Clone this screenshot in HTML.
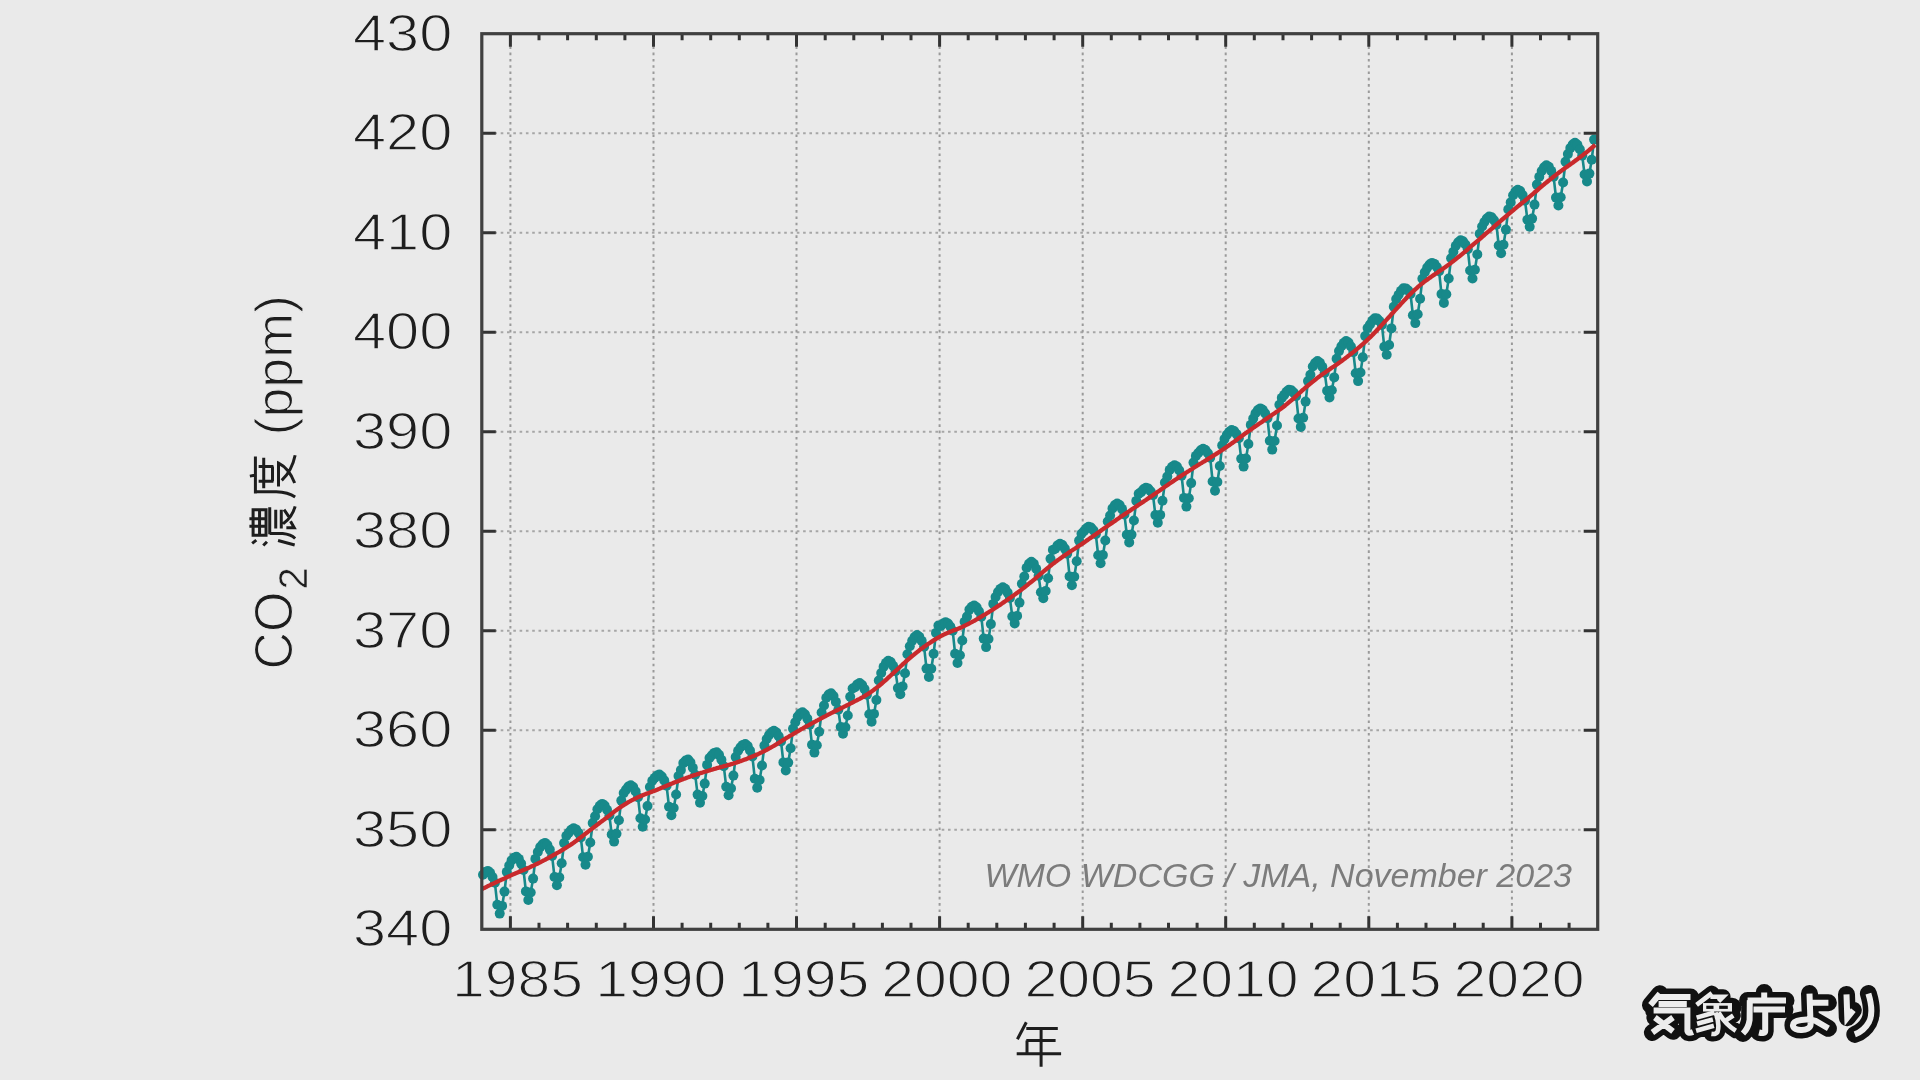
<!DOCTYPE html>
<html><head><meta charset="utf-8">
<style>
html,body{margin:0;padding:0;width:1920px;height:1080px;overflow:hidden;background:#eaeaea;}
svg{display:block;filter:blur(0.45px);}
text{font-family:"Liberation Sans",sans-serif;}
</style></head>
<body>
<svg width="1920" height="1080" viewBox="0 0 1920 1080">
<rect x="0" y="0" width="1920" height="1080" fill="#eaeaea"/>
<g stroke="#a6a6a6" stroke-width="2" stroke-dasharray="2.6 3.7" fill="none"><line x1="481.8" y1="829.8" x2="1597.7" y2="829.8"/><line x1="481.8" y1="730.3" x2="1597.7" y2="730.3"/><line x1="481.8" y1="630.8" x2="1597.7" y2="630.8"/><line x1="481.8" y1="531.3" x2="1597.7" y2="531.3"/><line x1="481.8" y1="431.7" x2="1597.7" y2="431.7"/><line x1="481.8" y1="332.2" x2="1597.7" y2="332.2"/><line x1="481.8" y1="232.7" x2="1597.7" y2="232.7"/><line x1="481.8" y1="133.2" x2="1597.7" y2="133.2"/></g>
<g stroke="#9a9a9a" stroke-width="2" stroke-dasharray="2.6 3.7" fill="none"><line x1="510.4" y1="33.7" x2="510.4" y2="929.3"/><line x1="653.5" y1="33.7" x2="653.5" y2="929.3"/><line x1="796.5" y1="33.7" x2="796.5" y2="929.3"/><line x1="939.6" y1="33.7" x2="939.6" y2="929.3"/><line x1="1082.7" y1="33.7" x2="1082.7" y2="929.3"/><line x1="1225.7" y1="33.7" x2="1225.7" y2="929.3"/><line x1="1368.8" y1="33.7" x2="1368.8" y2="929.3"/><line x1="1511.9" y1="33.7" x2="1511.9" y2="929.3"/></g>
<text x="1572" y="886.6" font-size="34" font-style="italic" fill="#7c7c7c" text-anchor="end">WMO WDCGG / JMA, November 2023</text>
<path d="M483.0,874.8 L485.4,872.1 L487.8,870.9 L490.1,872.8 L492.5,877.0 L494.9,882.8 L497.3,904.8 L499.7,913.6 L502.1,905.9 L504.5,891.6 L506.8,871.9 L509.2,865.5 L511.6,860.4 L514.0,857.7 L516.4,856.7 L518.8,858.9 L521.1,863.6 L523.5,870.0 L525.9,891.4 L528.3,900.0 L530.7,892.5 L533.1,878.6 L535.4,858.9 L537.8,852.0 L540.2,847.1 L542.6,844.2 L545.0,842.9 L547.4,845.0 L549.8,849.6 L552.1,855.9 L554.5,877.0 L556.9,885.2 L559.3,877.4 L561.7,863.2 L564.1,843.1 L566.4,835.7 L568.8,832.8 L571.2,829.8 L573.6,828.2 L576.0,829.4 L578.4,832.7 L580.8,837.4 L583.1,857.3 L585.5,864.8 L587.9,856.7 L590.3,842.5 L592.7,823.1 L595.1,816.2 L597.4,809.2 L599.8,805.7 L602.2,803.9 L604.6,805.5 L607.0,809.7 L609.4,815.5 L611.7,834.5 L614.1,841.6 L616.5,833.8 L618.9,820.2 L621.3,800.6 L623.7,793.1 L626.1,789.6 L628.4,786.6 L630.8,785.3 L633.2,787.1 L635.6,791.4 L638.0,797.2 L640.4,818.3 L642.7,826.8 L645.1,819.5 L647.5,806.0 L649.9,787.0 L652.3,780.7 L654.7,777.9 L657.1,775.6 L659.4,774.6 L661.8,776.5 L664.2,780.4 L666.6,785.8 L669.0,806.8 L671.4,815.3 L673.7,808.0 L676.1,794.5 L678.5,776.0 L680.9,770.1 L683.3,763.1 L685.7,760.5 L688.1,759.6 L690.4,762.3 L692.8,767.7 L695.2,774.8 L697.6,794.6 L700.0,802.7 L702.4,796.0 L704.7,783.6 L707.1,764.9 L709.5,758.0 L711.9,755.2 L714.3,752.9 L716.7,752.2 L719.0,754.7 L721.4,759.7 L723.8,766.2 L726.2,786.8 L728.6,795.2 L731.0,788.4 L733.4,775.6 L735.7,757.1 L738.1,750.7 L740.5,747.3 L742.9,744.9 L745.3,744.0 L747.7,746.1 L750.0,750.5 L752.4,756.5 L754.8,778.8 L757.2,787.8 L759.6,780.0 L762.0,765.5 L764.4,745.6 L766.7,739.0 L769.1,735.0 L771.5,732.2 L773.9,730.8 L776.3,732.4 L778.7,736.2 L781.0,741.4 L783.4,762.4 L785.8,770.5 L788.2,762.6 L790.6,748.3 L793.0,728.8 L795.3,722.2 L797.7,716.6 L800.1,713.6 L802.5,712.3 L804.9,714.2 L807.3,718.6 L809.7,724.6 L812.0,744.7 L814.4,752.6 L816.8,745.2 L819.2,731.7 L821.6,712.5 L824.0,705.5 L826.3,697.7 L828.7,694.5 L831.1,693.3 L833.5,696.1 L835.9,701.9 L838.3,709.7 L840.7,727.0 L843.0,733.8 L845.4,727.3 L847.8,715.5 L850.2,696.7 L852.6,688.5 L855.0,687.2 L857.3,684.4 L859.7,683.1 L862.1,685.0 L864.5,689.1 L866.9,694.7 L869.3,714.3 L871.6,721.7 L874.0,713.9 L876.4,700.0 L878.8,680.5 L881.2,673.0 L883.6,666.7 L886.0,662.9 L888.3,660.8 L890.7,662.0 L893.1,665.7 L895.5,671.1 L897.9,688.1 L900.3,694.2 L902.6,686.4 L905.0,673.3 L907.4,654.2 L909.8,646.2 L912.2,640.7 L914.6,637.0 L917.0,635.1 L919.3,636.7 L921.7,640.9 L924.1,646.8 L926.5,668.6 L928.9,677.0 L931.3,668.7 L933.6,653.8 L936.0,632.9 L938.4,625.5 L940.8,625.9 L943.2,623.5 L945.6,622.3 L948.0,623.5 L950.3,626.6 L952.7,630.8 L955.1,653.7 L957.5,663.0 L959.9,655.2 L962.3,640.5 L964.6,621.8 L967.0,616.6 L969.4,609.6 L971.8,606.8 L974.2,605.5 L976.6,607.2 L978.9,611.2 L981.3,616.7 L983.7,638.6 L986.1,647.1 L988.5,639.0 L990.9,624.1 L993.3,603.9 L995.6,597.0 L998.0,592.0 L1000.4,588.9 L1002.8,587.3 L1005.2,588.8 L1007.6,592.6 L1009.9,598.0 L1012.3,616.5 L1014.7,623.4 L1017.1,615.9 L1019.5,602.6 L1021.9,583.8 L1024.3,576.5 L1026.6,567.7 L1029.0,563.8 L1031.4,561.8 L1033.8,563.8 L1036.2,568.8 L1038.6,575.7 L1040.9,592.3 L1043.3,598.3 L1045.7,591.0 L1048.1,578.3 L1050.5,558.8 L1052.9,549.9 L1055.2,548.7 L1057.6,545.4 L1060.0,543.7 L1062.4,545.0 L1064.8,548.6 L1067.2,553.7 L1069.6,576.4 L1071.9,585.2 L1074.3,576.7 L1076.7,561.3 L1079.1,540.6 L1081.5,533.8 L1083.9,531.3 L1086.2,528.5 L1088.6,526.8 L1091.0,527.6 L1093.4,530.3 L1095.8,534.3 L1098.2,555.3 L1100.6,563.3 L1102.9,555.1 L1105.3,540.5 L1107.7,521.5 L1110.1,515.5 L1112.5,508.4 L1114.9,505.1 L1117.2,503.5 L1119.6,505.0 L1122.0,508.9 L1124.4,514.4 L1126.8,534.7 L1129.2,542.4 L1131.5,534.6 L1133.9,520.5 L1136.3,500.9 L1138.7,493.8 L1141.1,492.1 L1143.5,489.3 L1145.9,487.7 L1148.2,488.5 L1150.6,491.2 L1153.0,495.1 L1155.4,515.1 L1157.8,522.7 L1160.2,514.9 L1162.5,500.8 L1164.9,482.5 L1167.3,476.5 L1169.7,469.9 L1172.1,466.8 L1174.5,465.2 L1176.9,466.6 L1179.2,470.3 L1181.6,475.6 L1184.0,497.9 L1186.4,506.6 L1188.8,498.3 L1191.2,483.1 L1193.5,462.6 L1195.9,455.9 L1198.3,453.0 L1200.7,450.3 L1203.1,448.8 L1205.5,450.0 L1207.9,453.2 L1210.2,457.7 L1212.6,481.5 L1215.0,490.8 L1217.4,482.0 L1219.8,466.0 L1222.2,445.4 L1224.5,439.1 L1226.9,434.8 L1229.3,431.8 L1231.7,430.1 L1234.1,431.0 L1236.5,434.0 L1238.8,438.2 L1241.2,458.8 L1243.6,466.6 L1246.0,458.5 L1248.4,444.0 L1250.8,424.9 L1253.2,418.6 L1255.5,413.2 L1257.9,410.1 L1260.3,408.4 L1262.7,409.7 L1265.1,413.2 L1267.5,418.1 L1269.8,440.8 L1272.2,449.6 L1274.6,441.0 L1277.0,425.5 L1279.4,404.7 L1281.8,397.9 L1284.2,394.9 L1286.5,391.7 L1288.9,389.8 L1291.3,390.3 L1293.7,392.6 L1296.1,396.1 L1298.5,418.5 L1300.8,426.9 L1303.2,417.7 L1305.6,401.6 L1308.0,381.1 L1310.4,374.7 L1312.8,366.5 L1315.1,363.0 L1317.5,361.1 L1319.9,362.7 L1322.3,366.8 L1324.7,372.7 L1327.1,390.7 L1329.5,397.5 L1331.8,390.3 L1334.2,377.4 L1336.6,358.7 L1339.0,351.1 L1341.4,346.3 L1343.8,342.9 L1346.1,341.1 L1348.5,342.6 L1350.9,346.5 L1353.3,352.1 L1355.7,373.2 L1358.1,381.1 L1360.5,372.5 L1362.8,357.2 L1365.2,336.1 L1367.6,328.1 L1370.0,324.5 L1372.4,320.6 L1374.8,318.2 L1377.1,318.5 L1379.5,321.0 L1381.9,324.9 L1384.3,346.8 L1386.7,354.7 L1389.1,345.0 L1391.4,328.4 L1393.8,306.7 L1396.2,299.1 L1398.6,294.8 L1401.0,290.9 L1403.4,288.3 L1405.8,288.4 L1408.1,290.4 L1410.5,293.9 L1412.9,315.2 L1415.3,323.1 L1417.7,314.2 L1420.1,298.7 L1422.4,278.7 L1424.8,272.3 L1427.2,267.6 L1429.6,264.6 L1432.0,262.9 L1434.4,263.9 L1436.8,267.0 L1439.1,271.3 L1441.5,294.1 L1443.9,302.9 L1446.3,294.2 L1448.7,278.5 L1451.1,258.2 L1453.4,251.7 L1455.8,245.7 L1458.2,242.3 L1460.6,240.3 L1463.0,241.3 L1465.4,244.5 L1467.8,249.3 L1470.1,270.5 L1472.5,278.5 L1474.9,269.8 L1477.3,254.4 L1479.7,233.8 L1482.1,226.5 L1484.4,222.0 L1486.8,218.5 L1489.2,216.5 L1491.6,217.3 L1494.0,220.3 L1496.4,224.7 L1498.7,245.5 L1501.1,253.3 L1503.5,244.7 L1505.9,229.6 L1508.3,209.4 L1510.7,202.4 L1513.1,195.3 L1515.4,191.6 L1517.8,189.7 L1520.2,191.1 L1522.6,195.0 L1525.0,200.6 L1527.4,219.7 L1529.7,226.7 L1532.1,218.6 L1534.5,204.6 L1536.9,184.6 L1539.3,176.7 L1541.7,171.0 L1544.1,167.3 L1546.4,165.3 L1548.8,166.8 L1551.2,170.9 L1553.6,176.7 L1556.0,197.6 L1558.4,205.5 L1560.7,197.2 L1563.1,182.5 L1565.5,161.8 L1567.9,154.1 L1570.3,148.1 L1572.7,144.6 L1575.0,142.8 L1577.4,144.7 L1579.8,149.2 L1582.2,155.6 L1584.6,174.5 L1587.0,181.5 L1589.4,173.6 L1591.7,159.8 L1594.1,139.6" fill="none" stroke="#17898a" stroke-width="2.6"/>
<g fill="#17898a"><circle cx="483.0" cy="874.8" r="5.0"/><circle cx="485.4" cy="872.1" r="5.0"/><circle cx="487.8" cy="870.9" r="5.0"/><circle cx="490.1" cy="872.8" r="5.0"/><circle cx="492.5" cy="877.0" r="5.0"/><circle cx="494.9" cy="882.8" r="5.0"/><circle cx="497.3" cy="904.8" r="5.0"/><circle cx="499.7" cy="913.6" r="5.0"/><circle cx="502.1" cy="905.9" r="5.0"/><circle cx="504.5" cy="891.6" r="5.0"/><circle cx="506.8" cy="871.9" r="5.0"/><circle cx="509.2" cy="865.5" r="5.0"/><circle cx="511.6" cy="860.4" r="5.0"/><circle cx="514.0" cy="857.7" r="5.0"/><circle cx="516.4" cy="856.7" r="5.0"/><circle cx="518.8" cy="858.9" r="5.0"/><circle cx="521.1" cy="863.6" r="5.0"/><circle cx="523.5" cy="870.0" r="5.0"/><circle cx="525.9" cy="891.4" r="5.0"/><circle cx="528.3" cy="900.0" r="5.0"/><circle cx="530.7" cy="892.5" r="5.0"/><circle cx="533.1" cy="878.6" r="5.0"/><circle cx="535.4" cy="858.9" r="5.0"/><circle cx="537.8" cy="852.0" r="5.0"/><circle cx="540.2" cy="847.1" r="5.0"/><circle cx="542.6" cy="844.2" r="5.0"/><circle cx="545.0" cy="842.9" r="5.0"/><circle cx="547.4" cy="845.0" r="5.0"/><circle cx="549.8" cy="849.6" r="5.0"/><circle cx="552.1" cy="855.9" r="5.0"/><circle cx="554.5" cy="877.0" r="5.0"/><circle cx="556.9" cy="885.2" r="5.0"/><circle cx="559.3" cy="877.4" r="5.0"/><circle cx="561.7" cy="863.2" r="5.0"/><circle cx="564.1" cy="843.1" r="5.0"/><circle cx="566.4" cy="835.7" r="5.0"/><circle cx="568.8" cy="832.8" r="5.0"/><circle cx="571.2" cy="829.8" r="5.0"/><circle cx="573.6" cy="828.2" r="5.0"/><circle cx="576.0" cy="829.4" r="5.0"/><circle cx="578.4" cy="832.7" r="5.0"/><circle cx="580.8" cy="837.4" r="5.0"/><circle cx="583.1" cy="857.3" r="5.0"/><circle cx="585.5" cy="864.8" r="5.0"/><circle cx="587.9" cy="856.7" r="5.0"/><circle cx="590.3" cy="842.5" r="5.0"/><circle cx="592.7" cy="823.1" r="5.0"/><circle cx="595.1" cy="816.2" r="5.0"/><circle cx="597.4" cy="809.2" r="5.0"/><circle cx="599.8" cy="805.7" r="5.0"/><circle cx="602.2" cy="803.9" r="5.0"/><circle cx="604.6" cy="805.5" r="5.0"/><circle cx="607.0" cy="809.7" r="5.0"/><circle cx="609.4" cy="815.5" r="5.0"/><circle cx="611.7" cy="834.5" r="5.0"/><circle cx="614.1" cy="841.6" r="5.0"/><circle cx="616.5" cy="833.8" r="5.0"/><circle cx="618.9" cy="820.2" r="5.0"/><circle cx="621.3" cy="800.6" r="5.0"/><circle cx="623.7" cy="793.1" r="5.0"/><circle cx="626.1" cy="789.6" r="5.0"/><circle cx="628.4" cy="786.6" r="5.0"/><circle cx="630.8" cy="785.3" r="5.0"/><circle cx="633.2" cy="787.1" r="5.0"/><circle cx="635.6" cy="791.4" r="5.0"/><circle cx="638.0" cy="797.2" r="5.0"/><circle cx="640.4" cy="818.3" r="5.0"/><circle cx="642.7" cy="826.8" r="5.0"/><circle cx="645.1" cy="819.5" r="5.0"/><circle cx="647.5" cy="806.0" r="5.0"/><circle cx="649.9" cy="787.0" r="5.0"/><circle cx="652.3" cy="780.7" r="5.0"/><circle cx="654.7" cy="777.9" r="5.0"/><circle cx="657.1" cy="775.6" r="5.0"/><circle cx="659.4" cy="774.6" r="5.0"/><circle cx="661.8" cy="776.5" r="5.0"/><circle cx="664.2" cy="780.4" r="5.0"/><circle cx="666.6" cy="785.8" r="5.0"/><circle cx="669.0" cy="806.8" r="5.0"/><circle cx="671.4" cy="815.3" r="5.0"/><circle cx="673.7" cy="808.0" r="5.0"/><circle cx="676.1" cy="794.5" r="5.0"/><circle cx="678.5" cy="776.0" r="5.0"/><circle cx="680.9" cy="770.1" r="5.0"/><circle cx="683.3" cy="763.1" r="5.0"/><circle cx="685.7" cy="760.5" r="5.0"/><circle cx="688.1" cy="759.6" r="5.0"/><circle cx="690.4" cy="762.3" r="5.0"/><circle cx="692.8" cy="767.7" r="5.0"/><circle cx="695.2" cy="774.8" r="5.0"/><circle cx="697.6" cy="794.6" r="5.0"/><circle cx="700.0" cy="802.7" r="5.0"/><circle cx="702.4" cy="796.0" r="5.0"/><circle cx="704.7" cy="783.6" r="5.0"/><circle cx="707.1" cy="764.9" r="5.0"/><circle cx="709.5" cy="758.0" r="5.0"/><circle cx="711.9" cy="755.2" r="5.0"/><circle cx="714.3" cy="752.9" r="5.0"/><circle cx="716.7" cy="752.2" r="5.0"/><circle cx="719.0" cy="754.7" r="5.0"/><circle cx="721.4" cy="759.7" r="5.0"/><circle cx="723.8" cy="766.2" r="5.0"/><circle cx="726.2" cy="786.8" r="5.0"/><circle cx="728.6" cy="795.2" r="5.0"/><circle cx="731.0" cy="788.4" r="5.0"/><circle cx="733.4" cy="775.6" r="5.0"/><circle cx="735.7" cy="757.1" r="5.0"/><circle cx="738.1" cy="750.7" r="5.0"/><circle cx="740.5" cy="747.3" r="5.0"/><circle cx="742.9" cy="744.9" r="5.0"/><circle cx="745.3" cy="744.0" r="5.0"/><circle cx="747.7" cy="746.1" r="5.0"/><circle cx="750.0" cy="750.5" r="5.0"/><circle cx="752.4" cy="756.5" r="5.0"/><circle cx="754.8" cy="778.8" r="5.0"/><circle cx="757.2" cy="787.8" r="5.0"/><circle cx="759.6" cy="780.0" r="5.0"/><circle cx="762.0" cy="765.5" r="5.0"/><circle cx="764.4" cy="745.6" r="5.0"/><circle cx="766.7" cy="739.0" r="5.0"/><circle cx="769.1" cy="735.0" r="5.0"/><circle cx="771.5" cy="732.2" r="5.0"/><circle cx="773.9" cy="730.8" r="5.0"/><circle cx="776.3" cy="732.4" r="5.0"/><circle cx="778.7" cy="736.2" r="5.0"/><circle cx="781.0" cy="741.4" r="5.0"/><circle cx="783.4" cy="762.4" r="5.0"/><circle cx="785.8" cy="770.5" r="5.0"/><circle cx="788.2" cy="762.6" r="5.0"/><circle cx="790.6" cy="748.3" r="5.0"/><circle cx="793.0" cy="728.8" r="5.0"/><circle cx="795.3" cy="722.2" r="5.0"/><circle cx="797.7" cy="716.6" r="5.0"/><circle cx="800.1" cy="713.6" r="5.0"/><circle cx="802.5" cy="712.3" r="5.0"/><circle cx="804.9" cy="714.2" r="5.0"/><circle cx="807.3" cy="718.6" r="5.0"/><circle cx="809.7" cy="724.6" r="5.0"/><circle cx="812.0" cy="744.7" r="5.0"/><circle cx="814.4" cy="752.6" r="5.0"/><circle cx="816.8" cy="745.2" r="5.0"/><circle cx="819.2" cy="731.7" r="5.0"/><circle cx="821.6" cy="712.5" r="5.0"/><circle cx="824.0" cy="705.5" r="5.0"/><circle cx="826.3" cy="697.7" r="5.0"/><circle cx="828.7" cy="694.5" r="5.0"/><circle cx="831.1" cy="693.3" r="5.0"/><circle cx="833.5" cy="696.1" r="5.0"/><circle cx="835.9" cy="701.9" r="5.0"/><circle cx="838.3" cy="709.7" r="5.0"/><circle cx="840.7" cy="727.0" r="5.0"/><circle cx="843.0" cy="733.8" r="5.0"/><circle cx="845.4" cy="727.3" r="5.0"/><circle cx="847.8" cy="715.5" r="5.0"/><circle cx="850.2" cy="696.7" r="5.0"/><circle cx="852.6" cy="688.5" r="5.0"/><circle cx="855.0" cy="687.2" r="5.0"/><circle cx="857.3" cy="684.4" r="5.0"/><circle cx="859.7" cy="683.1" r="5.0"/><circle cx="862.1" cy="685.0" r="5.0"/><circle cx="864.5" cy="689.1" r="5.0"/><circle cx="866.9" cy="694.7" r="5.0"/><circle cx="869.3" cy="714.3" r="5.0"/><circle cx="871.6" cy="721.7" r="5.0"/><circle cx="874.0" cy="713.9" r="5.0"/><circle cx="876.4" cy="700.0" r="5.0"/><circle cx="878.8" cy="680.5" r="5.0"/><circle cx="881.2" cy="673.0" r="5.0"/><circle cx="883.6" cy="666.7" r="5.0"/><circle cx="886.0" cy="662.9" r="5.0"/><circle cx="888.3" cy="660.8" r="5.0"/><circle cx="890.7" cy="662.0" r="5.0"/><circle cx="893.1" cy="665.7" r="5.0"/><circle cx="895.5" cy="671.1" r="5.0"/><circle cx="897.9" cy="688.1" r="5.0"/><circle cx="900.3" cy="694.2" r="5.0"/><circle cx="902.6" cy="686.4" r="5.0"/><circle cx="905.0" cy="673.3" r="5.0"/><circle cx="907.4" cy="654.2" r="5.0"/><circle cx="909.8" cy="646.2" r="5.0"/><circle cx="912.2" cy="640.7" r="5.0"/><circle cx="914.6" cy="637.0" r="5.0"/><circle cx="917.0" cy="635.1" r="5.0"/><circle cx="919.3" cy="636.7" r="5.0"/><circle cx="921.7" cy="640.9" r="5.0"/><circle cx="924.1" cy="646.8" r="5.0"/><circle cx="926.5" cy="668.6" r="5.0"/><circle cx="928.9" cy="677.0" r="5.0"/><circle cx="931.3" cy="668.7" r="5.0"/><circle cx="933.6" cy="653.8" r="5.0"/><circle cx="936.0" cy="632.9" r="5.0"/><circle cx="938.4" cy="625.5" r="5.0"/><circle cx="940.8" cy="625.9" r="5.0"/><circle cx="943.2" cy="623.5" r="5.0"/><circle cx="945.6" cy="622.3" r="5.0"/><circle cx="948.0" cy="623.5" r="5.0"/><circle cx="950.3" cy="626.6" r="5.0"/><circle cx="952.7" cy="630.8" r="5.0"/><circle cx="955.1" cy="653.7" r="5.0"/><circle cx="957.5" cy="663.0" r="5.0"/><circle cx="959.9" cy="655.2" r="5.0"/><circle cx="962.3" cy="640.5" r="5.0"/><circle cx="964.6" cy="621.8" r="5.0"/><circle cx="967.0" cy="616.6" r="5.0"/><circle cx="969.4" cy="609.6" r="5.0"/><circle cx="971.8" cy="606.8" r="5.0"/><circle cx="974.2" cy="605.5" r="5.0"/><circle cx="976.6" cy="607.2" r="5.0"/><circle cx="978.9" cy="611.2" r="5.0"/><circle cx="981.3" cy="616.7" r="5.0"/><circle cx="983.7" cy="638.6" r="5.0"/><circle cx="986.1" cy="647.1" r="5.0"/><circle cx="988.5" cy="639.0" r="5.0"/><circle cx="990.9" cy="624.1" r="5.0"/><circle cx="993.3" cy="603.9" r="5.0"/><circle cx="995.6" cy="597.0" r="5.0"/><circle cx="998.0" cy="592.0" r="5.0"/><circle cx="1000.4" cy="588.9" r="5.0"/><circle cx="1002.8" cy="587.3" r="5.0"/><circle cx="1005.2" cy="588.8" r="5.0"/><circle cx="1007.6" cy="592.6" r="5.0"/><circle cx="1009.9" cy="598.0" r="5.0"/><circle cx="1012.3" cy="616.5" r="5.0"/><circle cx="1014.7" cy="623.4" r="5.0"/><circle cx="1017.1" cy="615.9" r="5.0"/><circle cx="1019.5" cy="602.6" r="5.0"/><circle cx="1021.9" cy="583.8" r="5.0"/><circle cx="1024.3" cy="576.5" r="5.0"/><circle cx="1026.6" cy="567.7" r="5.0"/><circle cx="1029.0" cy="563.8" r="5.0"/><circle cx="1031.4" cy="561.8" r="5.0"/><circle cx="1033.8" cy="563.8" r="5.0"/><circle cx="1036.2" cy="568.8" r="5.0"/><circle cx="1038.6" cy="575.7" r="5.0"/><circle cx="1040.9" cy="592.3" r="5.0"/><circle cx="1043.3" cy="598.3" r="5.0"/><circle cx="1045.7" cy="591.0" r="5.0"/><circle cx="1048.1" cy="578.3" r="5.0"/><circle cx="1050.5" cy="558.8" r="5.0"/><circle cx="1052.9" cy="549.9" r="5.0"/><circle cx="1055.2" cy="548.7" r="5.0"/><circle cx="1057.6" cy="545.4" r="5.0"/><circle cx="1060.0" cy="543.7" r="5.0"/><circle cx="1062.4" cy="545.0" r="5.0"/><circle cx="1064.8" cy="548.6" r="5.0"/><circle cx="1067.2" cy="553.7" r="5.0"/><circle cx="1069.6" cy="576.4" r="5.0"/><circle cx="1071.9" cy="585.2" r="5.0"/><circle cx="1074.3" cy="576.7" r="5.0"/><circle cx="1076.7" cy="561.3" r="5.0"/><circle cx="1079.1" cy="540.6" r="5.0"/><circle cx="1081.5" cy="533.8" r="5.0"/><circle cx="1083.9" cy="531.3" r="5.0"/><circle cx="1086.2" cy="528.5" r="5.0"/><circle cx="1088.6" cy="526.8" r="5.0"/><circle cx="1091.0" cy="527.6" r="5.0"/><circle cx="1093.4" cy="530.3" r="5.0"/><circle cx="1095.8" cy="534.3" r="5.0"/><circle cx="1098.2" cy="555.3" r="5.0"/><circle cx="1100.6" cy="563.3" r="5.0"/><circle cx="1102.9" cy="555.1" r="5.0"/><circle cx="1105.3" cy="540.5" r="5.0"/><circle cx="1107.7" cy="521.5" r="5.0"/><circle cx="1110.1" cy="515.5" r="5.0"/><circle cx="1112.5" cy="508.4" r="5.0"/><circle cx="1114.9" cy="505.1" r="5.0"/><circle cx="1117.2" cy="503.5" r="5.0"/><circle cx="1119.6" cy="505.0" r="5.0"/><circle cx="1122.0" cy="508.9" r="5.0"/><circle cx="1124.4" cy="514.4" r="5.0"/><circle cx="1126.8" cy="534.7" r="5.0"/><circle cx="1129.2" cy="542.4" r="5.0"/><circle cx="1131.5" cy="534.6" r="5.0"/><circle cx="1133.9" cy="520.5" r="5.0"/><circle cx="1136.3" cy="500.9" r="5.0"/><circle cx="1138.7" cy="493.8" r="5.0"/><circle cx="1141.1" cy="492.1" r="5.0"/><circle cx="1143.5" cy="489.3" r="5.0"/><circle cx="1145.9" cy="487.7" r="5.0"/><circle cx="1148.2" cy="488.5" r="5.0"/><circle cx="1150.6" cy="491.2" r="5.0"/><circle cx="1153.0" cy="495.1" r="5.0"/><circle cx="1155.4" cy="515.1" r="5.0"/><circle cx="1157.8" cy="522.7" r="5.0"/><circle cx="1160.2" cy="514.9" r="5.0"/><circle cx="1162.5" cy="500.8" r="5.0"/><circle cx="1164.9" cy="482.5" r="5.0"/><circle cx="1167.3" cy="476.5" r="5.0"/><circle cx="1169.7" cy="469.9" r="5.0"/><circle cx="1172.1" cy="466.8" r="5.0"/><circle cx="1174.5" cy="465.2" r="5.0"/><circle cx="1176.9" cy="466.6" r="5.0"/><circle cx="1179.2" cy="470.3" r="5.0"/><circle cx="1181.6" cy="475.6" r="5.0"/><circle cx="1184.0" cy="497.9" r="5.0"/><circle cx="1186.4" cy="506.6" r="5.0"/><circle cx="1188.8" cy="498.3" r="5.0"/><circle cx="1191.2" cy="483.1" r="5.0"/><circle cx="1193.5" cy="462.6" r="5.0"/><circle cx="1195.9" cy="455.9" r="5.0"/><circle cx="1198.3" cy="453.0" r="5.0"/><circle cx="1200.7" cy="450.3" r="5.0"/><circle cx="1203.1" cy="448.8" r="5.0"/><circle cx="1205.5" cy="450.0" r="5.0"/><circle cx="1207.9" cy="453.2" r="5.0"/><circle cx="1210.2" cy="457.7" r="5.0"/><circle cx="1212.6" cy="481.5" r="5.0"/><circle cx="1215.0" cy="490.8" r="5.0"/><circle cx="1217.4" cy="482.0" r="5.0"/><circle cx="1219.8" cy="466.0" r="5.0"/><circle cx="1222.2" cy="445.4" r="5.0"/><circle cx="1224.5" cy="439.1" r="5.0"/><circle cx="1226.9" cy="434.8" r="5.0"/><circle cx="1229.3" cy="431.8" r="5.0"/><circle cx="1231.7" cy="430.1" r="5.0"/><circle cx="1234.1" cy="431.0" r="5.0"/><circle cx="1236.5" cy="434.0" r="5.0"/><circle cx="1238.8" cy="438.2" r="5.0"/><circle cx="1241.2" cy="458.8" r="5.0"/><circle cx="1243.6" cy="466.6" r="5.0"/><circle cx="1246.0" cy="458.5" r="5.0"/><circle cx="1248.4" cy="444.0" r="5.0"/><circle cx="1250.8" cy="424.9" r="5.0"/><circle cx="1253.2" cy="418.6" r="5.0"/><circle cx="1255.5" cy="413.2" r="5.0"/><circle cx="1257.9" cy="410.1" r="5.0"/><circle cx="1260.3" cy="408.4" r="5.0"/><circle cx="1262.7" cy="409.7" r="5.0"/><circle cx="1265.1" cy="413.2" r="5.0"/><circle cx="1267.5" cy="418.1" r="5.0"/><circle cx="1269.8" cy="440.8" r="5.0"/><circle cx="1272.2" cy="449.6" r="5.0"/><circle cx="1274.6" cy="441.0" r="5.0"/><circle cx="1277.0" cy="425.5" r="5.0"/><circle cx="1279.4" cy="404.7" r="5.0"/><circle cx="1281.8" cy="397.9" r="5.0"/><circle cx="1284.2" cy="394.9" r="5.0"/><circle cx="1286.5" cy="391.7" r="5.0"/><circle cx="1288.9" cy="389.8" r="5.0"/><circle cx="1291.3" cy="390.3" r="5.0"/><circle cx="1293.7" cy="392.6" r="5.0"/><circle cx="1296.1" cy="396.1" r="5.0"/><circle cx="1298.5" cy="418.5" r="5.0"/><circle cx="1300.8" cy="426.9" r="5.0"/><circle cx="1303.2" cy="417.7" r="5.0"/><circle cx="1305.6" cy="401.6" r="5.0"/><circle cx="1308.0" cy="381.1" r="5.0"/><circle cx="1310.4" cy="374.7" r="5.0"/><circle cx="1312.8" cy="366.5" r="5.0"/><circle cx="1315.1" cy="363.0" r="5.0"/><circle cx="1317.5" cy="361.1" r="5.0"/><circle cx="1319.9" cy="362.7" r="5.0"/><circle cx="1322.3" cy="366.8" r="5.0"/><circle cx="1324.7" cy="372.7" r="5.0"/><circle cx="1327.1" cy="390.7" r="5.0"/><circle cx="1329.5" cy="397.5" r="5.0"/><circle cx="1331.8" cy="390.3" r="5.0"/><circle cx="1334.2" cy="377.4" r="5.0"/><circle cx="1336.6" cy="358.7" r="5.0"/><circle cx="1339.0" cy="351.1" r="5.0"/><circle cx="1341.4" cy="346.3" r="5.0"/><circle cx="1343.8" cy="342.9" r="5.0"/><circle cx="1346.1" cy="341.1" r="5.0"/><circle cx="1348.5" cy="342.6" r="5.0"/><circle cx="1350.9" cy="346.5" r="5.0"/><circle cx="1353.3" cy="352.1" r="5.0"/><circle cx="1355.7" cy="373.2" r="5.0"/><circle cx="1358.1" cy="381.1" r="5.0"/><circle cx="1360.5" cy="372.5" r="5.0"/><circle cx="1362.8" cy="357.2" r="5.0"/><circle cx="1365.2" cy="336.1" r="5.0"/><circle cx="1367.6" cy="328.1" r="5.0"/><circle cx="1370.0" cy="324.5" r="5.0"/><circle cx="1372.4" cy="320.6" r="5.0"/><circle cx="1374.8" cy="318.2" r="5.0"/><circle cx="1377.1" cy="318.5" r="5.0"/><circle cx="1379.5" cy="321.0" r="5.0"/><circle cx="1381.9" cy="324.9" r="5.0"/><circle cx="1384.3" cy="346.8" r="5.0"/><circle cx="1386.7" cy="354.7" r="5.0"/><circle cx="1389.1" cy="345.0" r="5.0"/><circle cx="1391.4" cy="328.4" r="5.0"/><circle cx="1393.8" cy="306.7" r="5.0"/><circle cx="1396.2" cy="299.1" r="5.0"/><circle cx="1398.6" cy="294.8" r="5.0"/><circle cx="1401.0" cy="290.9" r="5.0"/><circle cx="1403.4" cy="288.3" r="5.0"/><circle cx="1405.8" cy="288.4" r="5.0"/><circle cx="1408.1" cy="290.4" r="5.0"/><circle cx="1410.5" cy="293.9" r="5.0"/><circle cx="1412.9" cy="315.2" r="5.0"/><circle cx="1415.3" cy="323.1" r="5.0"/><circle cx="1417.7" cy="314.2" r="5.0"/><circle cx="1420.1" cy="298.7" r="5.0"/><circle cx="1422.4" cy="278.7" r="5.0"/><circle cx="1424.8" cy="272.3" r="5.0"/><circle cx="1427.2" cy="267.6" r="5.0"/><circle cx="1429.6" cy="264.6" r="5.0"/><circle cx="1432.0" cy="262.9" r="5.0"/><circle cx="1434.4" cy="263.9" r="5.0"/><circle cx="1436.8" cy="267.0" r="5.0"/><circle cx="1439.1" cy="271.3" r="5.0"/><circle cx="1441.5" cy="294.1" r="5.0"/><circle cx="1443.9" cy="302.9" r="5.0"/><circle cx="1446.3" cy="294.2" r="5.0"/><circle cx="1448.7" cy="278.5" r="5.0"/><circle cx="1451.1" cy="258.2" r="5.0"/><circle cx="1453.4" cy="251.7" r="5.0"/><circle cx="1455.8" cy="245.7" r="5.0"/><circle cx="1458.2" cy="242.3" r="5.0"/><circle cx="1460.6" cy="240.3" r="5.0"/><circle cx="1463.0" cy="241.3" r="5.0"/><circle cx="1465.4" cy="244.5" r="5.0"/><circle cx="1467.8" cy="249.3" r="5.0"/><circle cx="1470.1" cy="270.5" r="5.0"/><circle cx="1472.5" cy="278.5" r="5.0"/><circle cx="1474.9" cy="269.8" r="5.0"/><circle cx="1477.3" cy="254.4" r="5.0"/><circle cx="1479.7" cy="233.8" r="5.0"/><circle cx="1482.1" cy="226.5" r="5.0"/><circle cx="1484.4" cy="222.0" r="5.0"/><circle cx="1486.8" cy="218.5" r="5.0"/><circle cx="1489.2" cy="216.5" r="5.0"/><circle cx="1491.6" cy="217.3" r="5.0"/><circle cx="1494.0" cy="220.3" r="5.0"/><circle cx="1496.4" cy="224.7" r="5.0"/><circle cx="1498.7" cy="245.5" r="5.0"/><circle cx="1501.1" cy="253.3" r="5.0"/><circle cx="1503.5" cy="244.7" r="5.0"/><circle cx="1505.9" cy="229.6" r="5.0"/><circle cx="1508.3" cy="209.4" r="5.0"/><circle cx="1510.7" cy="202.4" r="5.0"/><circle cx="1513.1" cy="195.3" r="5.0"/><circle cx="1515.4" cy="191.6" r="5.0"/><circle cx="1517.8" cy="189.7" r="5.0"/><circle cx="1520.2" cy="191.1" r="5.0"/><circle cx="1522.6" cy="195.0" r="5.0"/><circle cx="1525.0" cy="200.6" r="5.0"/><circle cx="1527.4" cy="219.7" r="5.0"/><circle cx="1529.7" cy="226.7" r="5.0"/><circle cx="1532.1" cy="218.6" r="5.0"/><circle cx="1534.5" cy="204.6" r="5.0"/><circle cx="1536.9" cy="184.6" r="5.0"/><circle cx="1539.3" cy="176.7" r="5.0"/><circle cx="1541.7" cy="171.0" r="5.0"/><circle cx="1544.1" cy="167.3" r="5.0"/><circle cx="1546.4" cy="165.3" r="5.0"/><circle cx="1548.8" cy="166.8" r="5.0"/><circle cx="1551.2" cy="170.9" r="5.0"/><circle cx="1553.6" cy="176.7" r="5.0"/><circle cx="1556.0" cy="197.6" r="5.0"/><circle cx="1558.4" cy="205.5" r="5.0"/><circle cx="1560.7" cy="197.2" r="5.0"/><circle cx="1563.1" cy="182.5" r="5.0"/><circle cx="1565.5" cy="161.8" r="5.0"/><circle cx="1567.9" cy="154.1" r="5.0"/><circle cx="1570.3" cy="148.1" r="5.0"/><circle cx="1572.7" cy="144.6" r="5.0"/><circle cx="1575.0" cy="142.8" r="5.0"/><circle cx="1577.4" cy="144.7" r="5.0"/><circle cx="1579.8" cy="149.2" r="5.0"/><circle cx="1582.2" cy="155.6" r="5.0"/><circle cx="1584.6" cy="174.5" r="5.0"/><circle cx="1587.0" cy="181.5" r="5.0"/><circle cx="1589.4" cy="173.6" r="5.0"/><circle cx="1591.7" cy="159.8" r="5.0"/><circle cx="1594.1" cy="139.6" r="5.0"/></g>
<path d="M481.8,889.1 L483.0,888.5 L484.2,887.9 L485.4,887.4 L486.6,886.8 L487.8,886.2 L489.0,885.6 L490.1,885.1 L491.3,884.5 L492.5,883.9 L493.7,883.4 L494.9,882.8 L496.1,882.2 L497.3,881.7 L498.5,881.1 L499.7,880.6 L500.9,880.0 L502.1,879.4 L503.3,878.9 L504.5,878.4 L505.6,877.8 L506.8,877.3 L508.0,876.7 L509.2,876.2 L510.4,875.7 L511.6,875.1 L512.8,874.6 L514.0,874.1 L515.2,873.5 L516.4,873.0 L517.6,872.5 L518.8,872.0 L520.0,871.5 L521.1,871.0 L522.3,870.5 L523.5,870.0 L524.7,869.5 L525.9,868.9 L527.1,868.4 L528.3,867.9 L529.5,867.4 L530.7,866.8 L531.9,866.3 L533.1,865.8 L534.3,865.2 L535.4,864.6 L536.6,864.1 L537.8,863.5 L539.0,862.9 L540.2,862.3 L541.4,861.7 L542.6,861.0 L543.8,860.4 L545.0,859.8 L546.2,859.1 L547.4,858.5 L548.6,857.9 L549.8,857.2 L550.9,856.5 L552.1,855.9 L553.3,855.2 L554.5,854.5 L555.7,853.9 L556.9,853.2 L558.1,852.5 L559.3,851.8 L560.5,851.1 L561.7,850.4 L562.9,849.7 L564.1,848.9 L565.3,848.2 L566.4,847.5 L567.6,846.7 L568.8,846.0 L570.0,845.2 L571.2,844.4 L572.4,843.6 L573.6,842.7 L574.8,841.9 L576.0,841.0 L577.2,840.1 L578.4,839.2 L579.6,838.3 L580.8,837.4 L581.9,836.5 L583.1,835.6 L584.3,834.6 L585.5,833.7 L586.7,832.8 L587.9,831.8 L589.1,830.9 L590.3,830.0 L591.5,829.1 L592.7,828.2 L593.9,827.3 L595.1,826.4 L596.3,825.5 L597.4,824.6 L598.6,823.7 L599.8,822.8 L601.0,821.9 L602.2,821.0 L603.4,820.1 L604.6,819.2 L605.8,818.3 L607.0,817.3 L608.2,816.4 L609.4,815.5 L610.6,814.6 L611.7,813.6 L612.9,812.7 L614.1,811.8 L615.3,810.9 L616.5,810.0 L617.7,809.1 L618.9,808.3 L620.1,807.4 L621.3,806.6 L622.5,805.8 L623.7,805.1 L624.9,804.3 L626.1,803.6 L627.2,802.9 L628.4,802.2 L629.6,801.5 L630.8,800.8 L632.0,800.2 L633.2,799.6 L634.4,799.0 L635.6,798.4 L636.8,797.8 L638.0,797.2 L639.2,796.7 L640.4,796.2 L641.6,795.7 L642.7,795.2 L643.9,794.7 L645.1,794.3 L646.3,793.8 L647.5,793.4 L648.7,792.9 L649.9,792.5 L651.1,792.0 L652.3,791.6 L653.5,791.1 L654.7,790.7 L655.9,790.2 L657.1,789.7 L658.2,789.2 L659.4,788.8 L660.6,788.3 L661.8,787.8 L663.0,787.3 L664.2,786.8 L665.4,786.3 L666.6,785.8 L667.8,785.3 L669.0,784.8 L670.2,784.3 L671.4,783.8 L672.6,783.3 L673.7,782.8 L674.9,782.3 L676.1,781.9 L677.3,781.4 L678.5,780.9 L679.7,780.4 L680.9,780.0 L682.1,779.5 L683.3,779.1 L684.5,778.6 L685.7,778.2 L686.9,777.7 L688.1,777.3 L689.2,776.9 L690.4,776.5 L691.6,776.0 L692.8,775.6 L694.0,775.2 L695.2,774.8 L696.4,774.5 L697.6,774.1 L698.8,773.7 L700.0,773.3 L701.2,772.9 L702.4,772.6 L703.5,772.2 L704.7,771.8 L705.9,771.4 L707.1,771.1 L708.3,770.7 L709.5,770.4 L710.7,770.0 L711.9,769.6 L713.1,769.3 L714.3,768.9 L715.5,768.6 L716.7,768.2 L717.9,767.9 L719.0,767.6 L720.2,767.2 L721.4,766.9 L722.6,766.6 L723.8,766.2 L725.0,765.9 L726.2,765.6 L727.4,765.2 L728.6,764.9 L729.8,764.6 L731.0,764.2 L732.2,763.9 L733.4,763.5 L734.5,763.1 L735.7,762.8 L736.9,762.4 L738.1,762.0 L739.3,761.6 L740.5,761.1 L741.7,760.7 L742.9,760.3 L744.1,759.8 L745.3,759.4 L746.5,758.9 L747.7,758.4 L748.9,758.0 L750.0,757.5 L751.2,757.0 L752.4,756.5 L753.6,756.0 L754.8,755.5 L756.0,754.9 L757.2,754.4 L758.4,753.9 L759.6,753.3 L760.8,752.7 L762.0,752.2 L763.2,751.6 L764.4,751.0 L765.5,750.4 L766.7,749.8 L767.9,749.1 L769.1,748.5 L770.3,747.8 L771.5,747.2 L772.7,746.5 L773.9,745.8 L775.1,745.1 L776.3,744.4 L777.5,743.6 L778.7,742.9 L779.9,742.2 L781.0,741.4 L782.2,740.7 L783.4,739.9 L784.6,739.2 L785.8,738.4 L787.0,737.7 L788.2,737.0 L789.4,736.2 L790.6,735.5 L791.8,734.8 L793.0,734.1 L794.2,733.4 L795.3,732.7 L796.5,732.0 L797.7,731.3 L798.9,730.6 L800.1,729.9 L801.3,729.2 L802.5,728.6 L803.7,727.9 L804.9,727.2 L806.1,726.6 L807.3,725.9 L808.5,725.3 L809.7,724.6 L810.8,724.0 L812.0,723.3 L813.2,722.7 L814.4,722.0 L815.6,721.4 L816.8,720.7 L818.0,720.1 L819.2,719.4 L820.4,718.8 L821.6,718.2 L822.8,717.5 L824.0,716.9 L825.2,716.3 L826.3,715.7 L827.5,715.0 L828.7,714.4 L829.9,713.8 L831.1,713.2 L832.3,712.6 L833.5,712.0 L834.7,711.4 L835.9,710.8 L837.1,710.3 L838.3,709.7 L839.5,709.1 L840.7,708.5 L841.8,707.9 L843.0,707.3 L844.2,706.7 L845.4,706.1 L846.6,705.5 L847.8,704.9 L849.0,704.3 L850.2,703.7 L851.4,703.1 L852.6,702.5 L853.8,701.8 L855.0,701.2 L856.2,700.6 L857.3,700.0 L858.5,699.4 L859.7,698.8 L860.9,698.1 L862.1,697.5 L863.3,696.8 L864.5,696.1 L865.7,695.4 L866.9,694.7 L868.1,693.9 L869.3,693.1 L870.5,692.3 L871.6,691.5 L872.8,690.6 L874.0,689.7 L875.2,688.8 L876.4,687.9 L877.6,686.9 L878.8,686.0 L880.0,685.0 L881.2,684.0 L882.4,683.0 L883.6,681.9 L884.8,680.9 L886.0,679.8 L887.1,678.8 L888.3,677.7 L889.5,676.6 L890.7,675.5 L891.9,674.4 L893.1,673.3 L894.3,672.2 L895.5,671.1 L896.7,670.0 L897.9,668.9 L899.1,667.8 L900.3,666.6 L901.5,665.5 L902.6,664.4 L903.8,663.3 L905.0,662.3 L906.2,661.2 L907.4,660.1 L908.6,659.1 L909.8,658.1 L911.0,657.0 L912.2,656.0 L913.4,655.1 L914.6,654.1 L915.8,653.1 L917.0,652.2 L918.1,651.3 L919.3,650.3 L920.5,649.4 L921.7,648.5 L922.9,647.7 L924.1,646.8 L925.3,646.0 L926.5,645.1 L927.7,644.3 L928.9,643.5 L930.1,642.7 L931.3,641.9 L932.5,641.1 L933.6,640.4 L934.8,639.6 L936.0,638.9 L937.2,638.2 L938.4,637.5 L939.6,636.8 L940.8,636.2 L942.0,635.5 L943.2,634.9 L944.4,634.3 L945.6,633.8 L946.8,633.2 L948.0,632.7 L949.1,632.2 L950.3,631.7 L951.5,631.2 L952.7,630.8 L953.9,630.3 L955.1,629.9 L956.3,629.4 L957.5,628.9 L958.7,628.4 L959.9,627.9 L961.1,627.4 L962.3,626.9 L963.4,626.3 L964.6,625.8 L965.8,625.2 L967.0,624.6 L968.2,624.0 L969.4,623.4 L970.6,622.7 L971.8,622.1 L973.0,621.4 L974.2,620.8 L975.4,620.1 L976.6,619.4 L977.8,618.8 L978.9,618.1 L980.1,617.4 L981.3,616.7 L982.5,615.9 L983.7,615.2 L984.9,614.5 L986.1,613.8 L987.3,613.0 L988.5,612.3 L989.7,611.5 L990.9,610.8 L992.1,610.0 L993.3,609.3 L994.4,608.5 L995.6,607.7 L996.8,606.9 L998.0,606.1 L999.2,605.4 L1000.4,604.6 L1001.6,603.8 L1002.8,602.9 L1004.0,602.1 L1005.2,601.3 L1006.4,600.5 L1007.6,599.7 L1008.8,598.8 L1009.9,598.0 L1011.1,597.2 L1012.3,596.3 L1013.5,595.5 L1014.7,594.6 L1015.9,593.7 L1017.1,592.9 L1018.3,592.0 L1019.5,591.1 L1020.7,590.2 L1021.9,589.3 L1023.1,588.4 L1024.3,587.5 L1025.4,586.6 L1026.6,585.6 L1027.8,584.7 L1029.0,583.7 L1030.2,582.7 L1031.4,581.8 L1032.6,580.8 L1033.8,579.8 L1035.0,578.8 L1036.2,577.7 L1037.4,576.7 L1038.6,575.7 L1039.8,574.6 L1040.9,573.6 L1042.1,572.6 L1043.3,571.6 L1044.5,570.6 L1045.7,569.6 L1046.9,568.6 L1048.1,567.6 L1049.3,566.7 L1050.5,565.8 L1051.7,564.8 L1052.9,563.9 L1054.1,563.0 L1055.2,562.1 L1056.4,561.2 L1057.6,560.3 L1058.8,559.5 L1060.0,558.6 L1061.2,557.8 L1062.4,556.9 L1063.6,556.1 L1064.8,555.3 L1066.0,554.5 L1067.2,553.7 L1068.4,552.9 L1069.6,552.1 L1070.7,551.3 L1071.9,550.5 L1073.1,549.7 L1074.3,549.0 L1075.5,548.2 L1076.7,547.4 L1077.9,546.6 L1079.1,545.8 L1080.3,545.0 L1081.5,544.2 L1082.7,543.4 L1083.9,542.6 L1085.1,541.8 L1086.2,540.9 L1087.4,540.1 L1088.6,539.3 L1089.8,538.4 L1091.0,537.6 L1092.2,536.8 L1093.4,535.9 L1094.6,535.1 L1095.8,534.3 L1097.0,533.4 L1098.2,532.6 L1099.4,531.7 L1100.6,530.9 L1101.7,530.1 L1102.9,529.2 L1104.1,528.4 L1105.3,527.5 L1106.5,526.7 L1107.7,525.9 L1108.9,525.0 L1110.1,524.2 L1111.3,523.4 L1112.5,522.6 L1113.7,521.7 L1114.9,520.9 L1116.1,520.1 L1117.2,519.3 L1118.4,518.5 L1119.6,517.6 L1120.8,516.8 L1122.0,516.0 L1123.2,515.2 L1124.4,514.4 L1125.6,513.6 L1126.8,512.8 L1128.0,512.0 L1129.2,511.2 L1130.4,510.4 L1131.5,509.6 L1132.7,508.8 L1133.9,508.0 L1135.1,507.2 L1136.3,506.4 L1137.5,505.6 L1138.7,504.8 L1139.9,504.0 L1141.1,503.2 L1142.3,502.4 L1143.5,501.6 L1144.7,500.8 L1145.9,500.0 L1147.0,499.2 L1148.2,498.4 L1149.4,497.6 L1150.6,496.8 L1151.8,496.0 L1153.0,495.1 L1154.2,494.3 L1155.4,493.5 L1156.6,492.6 L1157.8,491.8 L1159.0,491.0 L1160.2,490.1 L1161.4,489.3 L1162.5,488.5 L1163.7,487.6 L1164.9,486.8 L1166.1,486.0 L1167.3,485.2 L1168.5,484.4 L1169.7,483.5 L1170.9,482.7 L1172.1,481.9 L1173.3,481.1 L1174.5,480.3 L1175.7,479.5 L1176.9,478.7 L1178.0,477.9 L1179.2,477.1 L1180.4,476.4 L1181.6,475.6 L1182.8,474.8 L1184.0,474.0 L1185.2,473.3 L1186.4,472.5 L1187.6,471.7 L1188.8,471.0 L1190.0,470.2 L1191.2,469.5 L1192.4,468.7 L1193.5,467.9 L1194.7,467.2 L1195.9,466.5 L1197.1,465.7 L1198.3,465.0 L1199.5,464.2 L1200.7,463.5 L1201.9,462.8 L1203.1,462.0 L1204.3,461.3 L1205.5,460.6 L1206.7,459.9 L1207.9,459.1 L1209.0,458.4 L1210.2,457.7 L1211.4,456.9 L1212.6,456.2 L1213.8,455.4 L1215.0,454.7 L1216.2,453.9 L1217.4,453.1 L1218.6,452.4 L1219.8,451.6 L1221.0,450.8 L1222.2,450.0 L1223.3,449.2 L1224.5,448.4 L1225.7,447.6 L1226.9,446.8 L1228.1,445.9 L1229.3,445.1 L1230.5,444.3 L1231.7,443.4 L1232.9,442.6 L1234.1,441.7 L1235.3,440.9 L1236.5,440.0 L1237.7,439.1 L1238.8,438.2 L1240.0,437.4 L1241.2,436.5 L1242.4,435.6 L1243.6,434.7 L1244.8,433.8 L1246.0,433.0 L1247.2,432.1 L1248.4,431.3 L1249.6,430.4 L1250.8,429.6 L1252.0,428.8 L1253.2,427.9 L1254.3,427.1 L1255.5,426.3 L1256.7,425.5 L1257.9,424.6 L1259.1,423.8 L1260.3,423.0 L1261.5,422.2 L1262.7,421.4 L1263.9,420.5 L1265.1,419.7 L1266.3,418.9 L1267.5,418.1 L1268.7,417.3 L1269.8,416.5 L1271.0,415.7 L1272.2,414.8 L1273.4,414.0 L1274.6,413.2 L1275.8,412.4 L1277.0,411.5 L1278.2,410.7 L1279.4,409.8 L1280.6,409.0 L1281.8,408.1 L1283.0,407.2 L1284.2,406.3 L1285.3,405.3 L1286.5,404.4 L1287.7,403.4 L1288.9,402.4 L1290.1,401.4 L1291.3,400.4 L1292.5,399.3 L1293.7,398.3 L1294.9,397.2 L1296.1,396.1 L1297.3,395.0 L1298.5,393.9 L1299.6,392.8 L1300.8,391.8 L1302.0,390.7 L1303.2,389.6 L1304.4,388.6 L1305.6,387.5 L1306.8,386.5 L1308.0,385.5 L1309.2,384.5 L1310.4,383.6 L1311.6,382.6 L1312.8,381.6 L1314.0,380.7 L1315.1,379.8 L1316.3,378.8 L1317.5,377.9 L1318.7,377.0 L1319.9,376.1 L1321.1,375.2 L1322.3,374.4 L1323.5,373.5 L1324.7,372.7 L1325.9,371.9 L1327.1,371.0 L1328.3,370.2 L1329.5,369.4 L1330.6,368.6 L1331.8,367.8 L1333.0,367.0 L1334.2,366.2 L1335.4,365.4 L1336.6,364.6 L1337.8,363.7 L1339.0,362.9 L1340.2,362.0 L1341.4,361.2 L1342.6,360.3 L1343.8,359.4 L1345.0,358.5 L1346.1,357.6 L1347.3,356.7 L1348.5,355.8 L1349.7,354.9 L1350.9,354.0 L1352.1,353.0 L1353.3,352.1 L1354.5,351.1 L1355.7,350.2 L1356.9,349.2 L1358.1,348.2 L1359.3,347.2 L1360.5,346.2 L1361.6,345.1 L1362.8,344.1 L1364.0,343.0 L1365.2,341.9 L1366.4,340.8 L1367.6,339.7 L1368.8,338.5 L1370.0,337.4 L1371.2,336.2 L1372.4,335.0 L1373.6,333.7 L1374.8,332.5 L1376.0,331.3 L1377.1,330.0 L1378.3,328.7 L1379.5,327.5 L1380.7,326.2 L1381.9,324.9 L1383.1,323.6 L1384.3,322.3 L1385.5,320.9 L1386.7,319.6 L1387.9,318.3 L1389.1,317.0 L1390.3,315.7 L1391.4,314.3 L1392.6,313.0 L1393.8,311.7 L1395.0,310.4 L1396.2,309.1 L1397.4,307.8 L1398.6,306.5 L1399.8,305.2 L1401.0,303.9 L1402.2,302.6 L1403.4,301.3 L1404.6,300.1 L1405.8,298.8 L1406.9,297.5 L1408.1,296.3 L1409.3,295.1 L1410.5,293.9 L1411.7,292.7 L1412.9,291.6 L1414.1,290.4 L1415.3,289.3 L1416.5,288.3 L1417.7,287.2 L1418.9,286.2 L1420.1,285.2 L1421.3,284.2 L1422.4,283.3 L1423.6,282.3 L1424.8,281.4 L1426.0,280.5 L1427.2,279.7 L1428.4,278.8 L1429.6,277.9 L1430.8,277.1 L1432.0,276.2 L1433.2,275.4 L1434.4,274.6 L1435.6,273.8 L1436.8,273.0 L1437.9,272.2 L1439.1,271.3 L1440.3,270.5 L1441.5,269.7 L1442.7,268.9 L1443.9,268.1 L1445.1,267.2 L1446.3,266.4 L1447.5,265.5 L1448.7,264.6 L1449.9,263.7 L1451.1,262.8 L1452.3,261.9 L1453.4,261.0 L1454.6,260.1 L1455.8,259.1 L1457.0,258.2 L1458.2,257.2 L1459.4,256.3 L1460.6,255.3 L1461.8,254.3 L1463.0,253.3 L1464.2,252.3 L1465.4,251.3 L1466.6,250.3 L1467.8,249.3 L1468.9,248.2 L1470.1,247.2 L1471.3,246.2 L1472.5,245.2 L1473.7,244.1 L1474.9,243.1 L1476.1,242.1 L1477.3,241.1 L1478.5,240.1 L1479.7,239.0 L1480.9,238.0 L1482.1,237.0 L1483.2,236.0 L1484.4,235.0 L1485.6,233.9 L1486.8,232.9 L1488.0,231.9 L1489.2,230.9 L1490.4,229.8 L1491.6,228.8 L1492.8,227.8 L1494.0,226.7 L1495.2,225.7 L1496.4,224.7 L1497.6,223.6 L1498.7,222.6 L1499.9,221.6 L1501.1,220.5 L1502.3,219.5 L1503.5,218.5 L1504.7,217.5 L1505.9,216.5 L1507.1,215.5 L1508.3,214.4 L1509.5,213.4 L1510.7,212.4 L1511.9,211.4 L1513.1,210.4 L1514.2,209.4 L1515.4,208.4 L1516.6,207.4 L1517.8,206.4 L1519.0,205.5 L1520.2,204.5 L1521.4,203.5 L1522.6,202.5 L1523.8,201.6 L1525.0,200.6 L1526.2,199.6 L1527.4,198.6 L1528.6,197.6 L1529.7,196.6 L1530.9,195.6 L1532.1,194.6 L1533.3,193.6 L1534.5,192.5 L1535.7,191.5 L1536.9,190.5 L1538.1,189.5 L1539.3,188.4 L1540.5,187.4 L1541.7,186.4 L1542.9,185.4 L1544.1,184.4 L1545.2,183.4 L1546.4,182.5 L1547.6,181.5 L1548.8,180.5 L1550.0,179.6 L1551.2,178.6 L1552.4,177.7 L1553.6,176.7 L1554.8,175.8 L1556.0,174.9 L1557.2,173.9 L1558.4,173.0 L1559.5,172.1 L1560.7,171.3 L1561.9,170.4 L1563.1,169.5 L1564.3,168.6 L1565.5,167.8 L1566.7,166.9 L1567.9,166.1 L1569.1,165.2 L1570.3,164.4 L1571.5,163.5 L1572.7,162.7 L1573.9,161.8 L1575.0,160.9 L1576.2,160.1 L1577.4,159.2 L1578.6,158.3 L1579.8,157.4 L1581.0,156.5 L1582.2,155.6 L1583.4,154.7 L1584.6,153.7 L1585.8,152.8 L1587.0,151.8 L1588.2,150.9 L1589.4,149.9 L1590.5,148.9 L1591.7,147.9 L1592.9,146.9 L1594.1,145.9 L1595.3,144.9" fill="none" stroke="#c82a2c" stroke-width="4.3" stroke-linejoin="round"/>
<path d="M510.4,929.3 v-13.0 M510.4,33.7 v13.0 M539.0,929.3 v-6.5 M539.0,33.7 v6.5 M567.6,929.3 v-6.5 M567.6,33.7 v6.5 M596.3,929.3 v-6.5 M596.3,33.7 v6.5 M624.9,929.3 v-6.5 M624.9,33.7 v6.5 M653.5,929.3 v-13.0 M653.5,33.7 v13.0 M682.1,929.3 v-6.5 M682.1,33.7 v6.5 M710.7,929.3 v-6.5 M710.7,33.7 v6.5 M739.3,929.3 v-6.5 M739.3,33.7 v6.5 M767.9,929.3 v-6.5 M767.9,33.7 v6.5 M796.5,929.3 v-13.0 M796.5,33.7 v13.0 M825.2,929.3 v-6.5 M825.2,33.7 v6.5 M853.8,929.3 v-6.5 M853.8,33.7 v6.5 M882.4,929.3 v-6.5 M882.4,33.7 v6.5 M911.0,929.3 v-6.5 M911.0,33.7 v6.5 M939.6,929.3 v-13.0 M939.6,33.7 v13.0 M968.2,929.3 v-6.5 M968.2,33.7 v6.5 M996.8,929.3 v-6.5 M996.8,33.7 v6.5 M1025.4,929.3 v-6.5 M1025.4,33.7 v6.5 M1054.1,929.3 v-6.5 M1054.1,33.7 v6.5 M1082.7,929.3 v-13.0 M1082.7,33.7 v13.0 M1111.3,929.3 v-6.5 M1111.3,33.7 v6.5 M1139.9,929.3 v-6.5 M1139.9,33.7 v6.5 M1168.5,929.3 v-6.5 M1168.5,33.7 v6.5 M1197.1,929.3 v-6.5 M1197.1,33.7 v6.5 M1225.7,929.3 v-13.0 M1225.7,33.7 v13.0 M1254.3,929.3 v-6.5 M1254.3,33.7 v6.5 M1283.0,929.3 v-6.5 M1283.0,33.7 v6.5 M1311.6,929.3 v-6.5 M1311.6,33.7 v6.5 M1340.2,929.3 v-6.5 M1340.2,33.7 v6.5 M1368.8,929.3 v-13.0 M1368.8,33.7 v13.0 M1397.4,929.3 v-6.5 M1397.4,33.7 v6.5 M1426.0,929.3 v-6.5 M1426.0,33.7 v6.5 M1454.6,929.3 v-6.5 M1454.6,33.7 v6.5 M1483.2,929.3 v-6.5 M1483.2,33.7 v6.5 M1511.9,929.3 v-13.0 M1511.9,33.7 v13.0 M1540.5,929.3 v-6.5 M1540.5,33.7 v6.5 M1569.1,929.3 v-6.5 M1569.1,33.7 v6.5 M481.8,829.8 h14 M1597.7,829.8 h-14 M481.8,730.3 h14 M1597.7,730.3 h-14 M481.8,630.8 h14 M1597.7,630.8 h-14 M481.8,531.3 h14 M1597.7,531.3 h-14 M481.8,431.7 h14 M1597.7,431.7 h-14 M481.8,332.2 h14 M1597.7,332.2 h-14 M481.8,232.7 h14 M1597.7,232.7 h-14 M481.8,133.2 h14 M1597.7,133.2 h-14" stroke="#333" stroke-width="3" fill="none"/>
<rect x="481.8" y="33.7" width="1115.9" height="895.6" fill="none" stroke="#404040" stroke-width="3.2"/>
<g font-size="52" fill="#1e1e1e" text-anchor="end" stroke="#eaeaea" stroke-width="1.3"><text transform="translate(452.3,946.2) scale(1.146,1)">340</text><text transform="translate(452.3,846.7) scale(1.146,1)">350</text><text transform="translate(452.3,747.2) scale(1.146,1)">360</text><text transform="translate(452.3,647.7) scale(1.146,1)">370</text><text transform="translate(452.3,548.2) scale(1.146,1)">380</text><text transform="translate(452.3,448.6) scale(1.146,1)">390</text><text transform="translate(452.3,349.1) scale(1.146,1)">400</text><text transform="translate(452.3,249.6) scale(1.146,1)">410</text><text transform="translate(452.3,150.1) scale(1.146,1)">420</text><text transform="translate(452.3,50.6) scale(1.146,1)">430</text></g>
<g font-size="51" fill="#1e1e1e" text-anchor="middle" stroke="#eaeaea" stroke-width="1.3"><text transform="translate(517.6,997) scale(1.155,1)">1985</text><text transform="translate(660.7,997) scale(1.155,1)">1990</text><text transform="translate(803.7,997) scale(1.155,1)">1995</text><text transform="translate(946.8,997) scale(1.155,1)">2000</text><text transform="translate(1089.9,997) scale(1.155,1)">2005</text><text transform="translate(1232.9,997) scale(1.155,1)">2010</text><text transform="translate(1376.0,997) scale(1.155,1)">2015</text><text transform="translate(1519.1,997) scale(1.155,1)">2020</text></g>
<!-- y axis title -->
<g fill="#1e1e1e" stroke="#eaeaea" stroke-width="1.1">
<text transform="translate(291.8,669.6) rotate(-90) scale(0.963,1)" font-size="54">CO</text>
<text transform="translate(307.2,589.5) rotate(-90)" font-size="40" stroke-width="0.5">2</text>
<text transform="translate(291.6,435.5) rotate(-90) scale(1.035,1)" font-size="52">(ppm)</text>
</g>
<g fill="none" stroke="#1e1e1e" stroke-width="3" stroke-linecap="butt">
<path transform="translate(249.4,546.7) rotate(-90) scale(0.411,0.462)" vector-effect="non-scaling-stroke" d="M8,6 L16,15 M3,30 L12,38 M4,98 L15,62 M28,8 L90,8 L90,36 L28,36 Z M50,0 L50,36 M68,0 L68,36 M28,22 L90,22 M30,44 L96,44 M32,44 L32,72 Q30,90 20,99 M44,57 L90,57 M44,69 L90,69 M46,80 L46,97 L62,89 M56,73 Q70,92 98,99 M90,75 L72,86"/>
<path transform="translate(249.4,497.8) rotate(-90) scale(0.434,0.462)" vector-effect="non-scaling-stroke" d="M50,1 L52,11 M10,13 L95,13 M14,13 L14,58 Q13,84 2,99 M22,31 L92,31 M38,20 L38,52 M72,20 L72,52 M38,50 L72,50 M26,63 L80,63 Q68,86 34,98 M40,70 Q62,92 98,99"/>
<path d="M1026.3,1022.2 L1017.4,1039.3 M1026.3,1028.5 L1057.8,1028.5 M1026.3,1040.4 L1055.6,1040.4 M1027,1040.4 L1027,1053.7 M1016.7,1053.7 L1061.1,1053.7 M1041.1,1028.5 L1041.1,1066.7"/>
</g>
<!-- credit -->
<g fill="none" stroke-linecap="round" stroke-linejoin="round" stroke="#111">
<path d="M1659.9,993.8 L1650.5,1005 M1658.6,996.9 L1690.5,996.9 M1658.6,1004 L1686.8,1004 M1653.6,1010.6 L1687.4,1010.6 L1687.4,1031 Q1688,1034 1693,1032 M1654.9,1017.5 L1673,1031.3 M1673,1017.5 L1652.4,1032.5 M1764.2,992.5 L1764.2,998.9 M1747.6,1000.4 L1786,1000.4 M1749.8,1000.4 L1749.6,1020 Q1748.5,1028 1743,1033.5 M1753.5,1009.5 L1785,1009.5 M1765.2,1009.5 L1765.2,1031 Q1765,1034 1759,1032.5 M1809.5,993.6 L1810.6,1024.6 C1810.6,1031.4 1792.9,1032.1 1792.9,1025.3 C1792.9,1019.3 1808,1018.5 1815.5,1020.8 L1828.4,1028.3 M1811,1002.7 L1828.4,1002.7 M1846.5,994.4 L1847.3,1017.8 L1853.3,1010.2 M1868.4,993.6 Q1874,1012 1869,1022 Q1864,1031 1854.8,1034.4" stroke-width="17"/>
<path d="M1711.9,993.1 L1696.6,1004.9 M1710.4,996.7 L1723.1,996.7 L1718.5,1001.3 M1696.6,1017.6 L1714.4,1012.5 M1697.1,1023.7 L1712.9,1019.6 M1696.1,1030.8 L1713.9,1025.7 M1715.5,1012.5 Q1720,1024 1717.5,1032 Q1716,1034.5 1711.4,1033.9 M1718.5,1012.5 Q1725,1024 1735.8,1030.8 M1733.3,1015.5 L1725.6,1020.6" stroke-width="15"/>
<path d="M1703,1007.3 L1732,1007.3" stroke-width="19"/>
</g>
<g fill="none" stroke="#ececec" stroke-linecap="butt" stroke-linejoin="miter">
<path d="M1659.9,993.8 L1650.5,1005 M1658.6,996.9 L1690.5,996.9 M1658.6,1004 L1686.8,1004 M1653.6,1010.6 L1687.4,1010.6 L1687.4,1031 Q1688,1034 1693,1032 M1654.9,1017.5 L1673,1031.3 M1673,1017.5 L1652.4,1032.5 M1764.2,992.5 L1764.2,998.9 M1747.6,1000.4 L1786,1000.4 M1749.8,1000.4 L1749.6,1020 Q1748.5,1028 1743,1033.5 M1753.5,1009.5 L1785,1009.5 M1765.2,1009.5 L1765.2,1031 Q1765,1034 1759,1032.5 M1809.5,993.6 L1810.6,1024.6 C1810.6,1031.4 1792.9,1032.1 1792.9,1025.3 C1792.9,1019.3 1808,1018.5 1815.5,1020.8 L1828.4,1028.3 M1811,1002.7 L1828.4,1002.7 M1846.5,994.4 L1847.3,1017.8 L1853.3,1010.2 M1868.4,993.6 Q1874,1012 1869,1022 Q1864,1031 1854.8,1034.4" stroke-width="6"/>
<path d="M1711.9,993.1 L1696.6,1004.9 M1710.4,996.7 L1723.1,996.7 L1718.5,1001.3 M1696.6,1017.6 L1714.4,1012.5 M1697.1,1023.7 L1712.9,1019.6 M1696.1,1030.8 L1713.9,1025.7 M1715.5,1012.5 Q1720,1024 1717.5,1032 Q1716,1034.5 1711.4,1033.9 M1718.5,1012.5 Q1725,1024 1735.8,1030.8 M1733.3,1015.5 L1725.6,1020.6" stroke-width="4.6"/>
<path d="M1703,1007.3 L1732,1007.3" stroke-width="8.5"/>
</g>
<rect x="1706.3" y="1005.7" width="7.2" height="3.2" fill="#111"/>
<rect x="1719.2" y="1005.7" width="8.6" height="3.2" fill="#111"/>
</svg>
</body></html>
